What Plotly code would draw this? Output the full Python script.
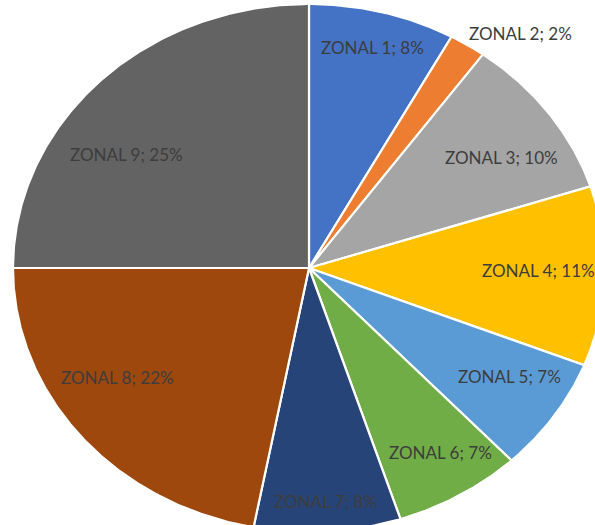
import numpy as np
import plotly.graph_objects as go

# Share of each zone (percent), clockwise from 12 o'clock
zones = ["ZONAL 1", "ZONAL 2", "ZONAL 3", "ZONAL 4", "ZONAL 5",
         "ZONAL 6", "ZONAL 7", "ZONAL 8", "ZONAL 9"]
shares = [8, 2, 10, 11, 7, 7, 8, 22, 25]

colors = ["#4472C4", "#ED7D31", "#A5A5A5", "#FFC000", "#5B9BD5",
          "#70AD47", "#264478", "#9E480E", "#636363"]

# Label placement: (bearing in degrees clockwise from top, radius fraction)
label_polar = [(14.5, 0.861), (38.8, 1.142), (57.1, 0.773), (90.6, 0.777),
               (121.4, 0.792), (147.6, 0.826), (176.3, 0.888),
               (237.5, 0.769), (304.7, 0.752)]

W, H = 595, 525
CX, CY = 309, 268      # pie centre in pixels
RX, RY = 296, 264      # pie radii in pixels (slightly oval)

total = float(sum(shares))
fig = go.Figure()

start = 0.0
for name, val, col in zip(zones, shares, colors):
    a0 = start / total * 2 * np.pi
    a1 = (start + val) / total * 2 * np.pi
    n = max(8, int(np.degrees(a1 - a0) * 2))
    t = np.linspace(a0, a1, n)
    xs = np.concatenate([[0.0], np.sin(t), [0.0]])
    ys = np.concatenate([[0.0], np.cos(t), [0.0]])
    fig.add_trace(go.Scatter(
        x=xs, y=ys, mode="lines", fill="toself", fillcolor=col,
        line=dict(color="white", width=2.2), name=name,
        hoveron="fills", text=f"{name}; {val}%", hoverinfo="text",
        showlegend=False,
    ))
    start += val

for name, val, (deg, r) in zip(zones, shares, label_polar):
    th = np.radians(deg)
    fig.add_annotation(
        x=r * np.sin(th), y=r * np.cos(th), text=f"{name}; {val}%",
        showarrow=False, xanchor="center", yanchor="middle",
        font=dict(family="Lato", size=17, color="#3d3d3d"),
    )

fig.update_layout(
    width=W, height=H,
    margin=dict(l=0, r=0, t=0, b=0),
    paper_bgcolor="white", plot_bgcolor="white",
    xaxis=dict(range=[(0 - CX) / RX, (W - CX) / RX], visible=False,
               fixedrange=True),
    yaxis=dict(range=[(CY - H) / RY, CY / RY], visible=False,
               fixedrange=True),
    showlegend=False,
)

fig.write_html("out.html")
